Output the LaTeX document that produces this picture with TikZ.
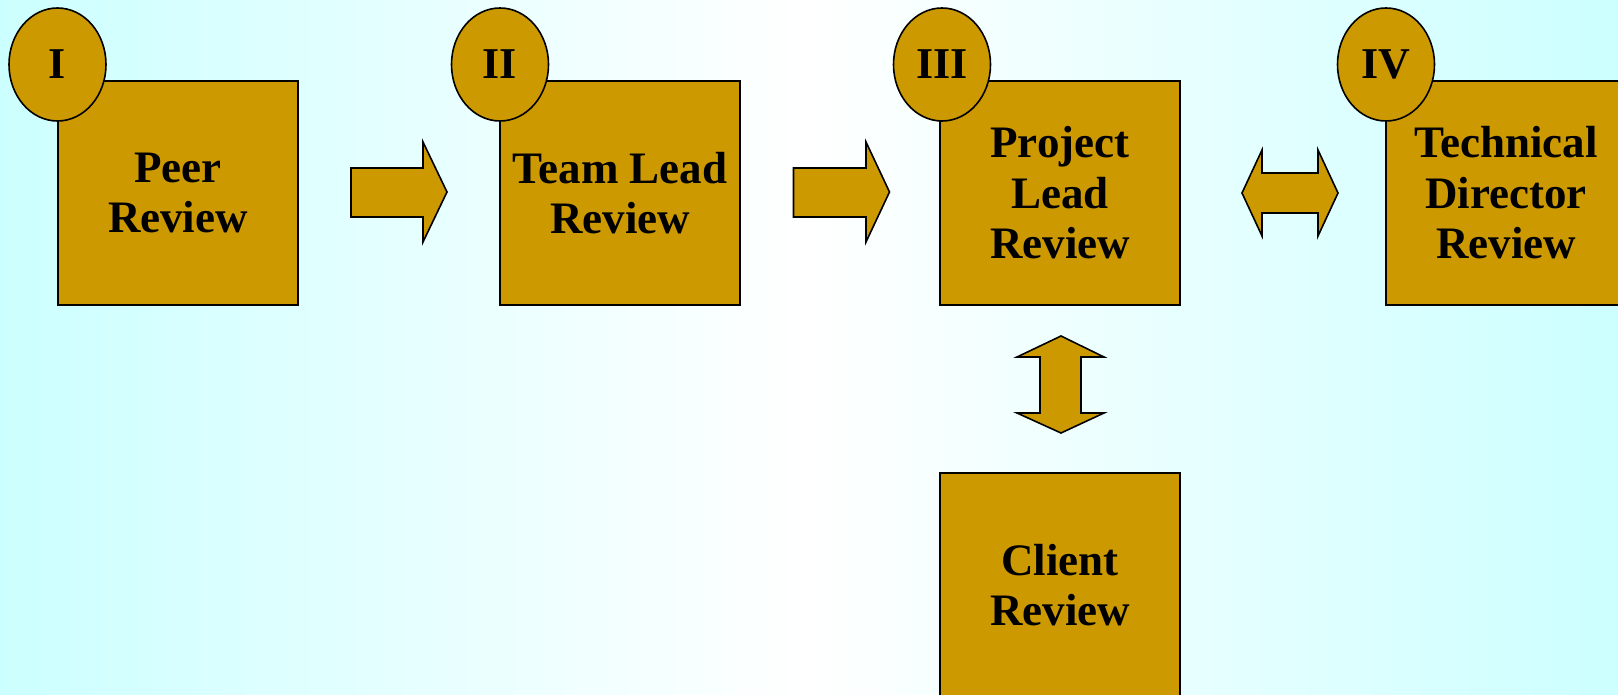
\documentclass[tikz,border=0pt]{standalone}
\usepackage{fontspec}
\setmainfont{Liberation Serif}
\usetikzlibrary{shapes.geometric}
\definecolor{gold}{RGB}{204,153,0}
\definecolor{bgcyan}{RGB}{204,255,255}
\tikzset{
  box/.style={draw=black, line width=1.6pt, fill=gold, rectangle, minimum width=240pt, minimum height=224pt, inner sep=0pt, align=center, font=\fontsize{45}{50.5}\selectfont\bfseries},
  num/.style={draw=black, line width=1.6pt, fill=gold, ellipse, minimum width=97pt, minimum height=113pt, inner sep=0pt, font=\fontsize{44}{50}\selectfont\bfseries},
  blockarrow/.style={draw=black, line width=1.6pt, fill=gold, line join=miter}
}
\begin{document}
\begin{tikzpicture}[x=1pt,y=-1pt]
\useasboundingbox (0,0) rectangle (1618,695);
\clip (0,0) rectangle (1618,695);
\shade[left color=bgcyan, right color=bgcyan, middle color=white] (0,0) rectangle (1618,695);
% boxes
\node[box] (b1) at (178,193) {Peer\\Review};
\node[box] (b2) at (620,193) {Team Lead\\Review};
\node[box] (b3) at (1060,193) {Project\\Lead\\Review};
\node[box] (b4) at (1506,193) {Technical\\Director\\Review};
\node[box] (b5) at (1060,585) {Client\\Review};
% numbers
\node[num] (n1) at (57.5,64.5) {I};
\node[num] (n2) at (500,64.5) {II};
\node[num] (n3) at (942,64.5) {III};
\node[num] (n4) at (1386,64.5) {IV};
% arrows
\draw[blockarrow] (351,168) -- (423,168) -- (423,142) -- (447,192) -- (423,242) -- (423,217) -- (351,217) -- cycle;
\draw[blockarrow] (793.5,168) -- (866,168) -- (866,142) -- (889.5,192) -- (866,242) -- (866,217) -- (793.5,217) -- cycle;
\draw[blockarrow] (1242,193) -- (1262,150) -- (1262,173) -- (1318,173) -- (1318,150) -- (1338,193) -- (1318,236) -- (1318,213) -- (1262,213) -- (1262,236) -- cycle;
\draw[blockarrow] (1061,336) -- (1104,357) -- (1081,357) -- (1081,413) -- (1104,413) -- (1061,433) -- (1017,413) -- (1040,413) -- (1040,357) -- (1017,357) -- cycle;
\end{tikzpicture}
\end{document}
